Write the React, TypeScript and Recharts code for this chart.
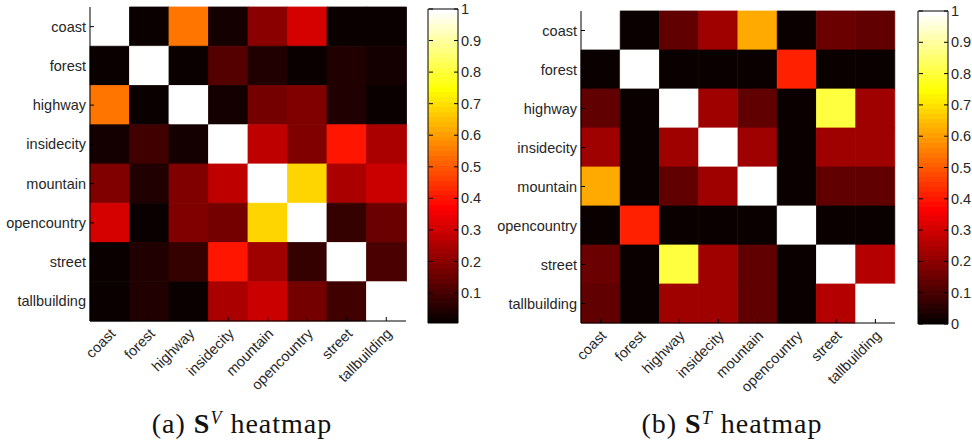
import React from "react";
import { BarChart, Bar, Cell, XAxis, YAxis } from "recharts";

const categories = [
  "coast",
  "forest",
  "highway",
  "insidecity",
  "mountain",
  "opencountry",
  "street",
  "tallbuilding",
];

// rows top -> bottom, columns left -> right
const visualSim = [
  [1.0, 0.01, 0.54, 0.03, 0.2, 0.31, 0.02, 0.02],
  [0.01, 1.0, 0.01, 0.12, 0.05, 0.01, 0.04, 0.03],
  [0.54, 0.01, 1.0, 0.03, 0.17, 0.18, 0.05, 0.02],
  [0.03, 0.09, 0.03, 1.0, 0.27, 0.18, 0.4, 0.24],
  [0.19, 0.05, 0.18, 0.27, 1.0, 0.68, 0.25, 0.29],
  [0.31, 0.02, 0.18, 0.17, 0.68, 1.0, 0.08, 0.16],
  [0.02, 0.05, 0.07, 0.4, 0.23, 0.08, 1.0, 0.1],
  [0.02, 0.04, 0.02, 0.25, 0.29, 0.17, 0.09, 1.0],
];

const textualSim = [
  [1.0, 0.01, 0.14, 0.22, 0.62, 0.01, 0.15, 0.13],
  [0.01, 1.0, 0.01, 0.01, 0.01, 0.42, 0.01, 0.01],
  [0.14, 0.01, 1.0, 0.22, 0.13, 0.01, 0.81, 0.23],
  [0.22, 0.01, 0.22, 1.0, 0.22, 0.01, 0.22, 0.22],
  [0.62, 0.01, 0.14, 0.22, 1.0, 0.01, 0.14, 0.13],
  [0.01, 0.42, 0.01, 0.01, 0.01, 1.0, 0.01, 0.01],
  [0.15, 0.01, 0.81, 0.22, 0.14, 0.01, 1.0, 0.25],
  [0.13, 0.01, 0.23, 0.22, 0.13, 0.01, 0.25, 1.0],
];

const visualRange = [0.005, 1];
const textualRange = [0, 1];
const visualBarTicks = [0.1, 0.2, 0.3, 0.4, 0.5, 0.6, 0.7, 0.8, 0.9, 1];
const textualBarTicks = [0, 0.1, 0.2, 0.3, 0.4, 0.5, 0.6, 0.7, 0.8, 0.9, 1];

const FONT = "'Liberation Sans', Arial, sans-serif";
const TEXT = "#262626";
const FS = 14.5;

// matlab hot(64), indexed the way image() does it
function hotIndex(t: number) {
  return Math.min(64, Math.floor(Math.max(0, t) * 64) + 1);
}
function hotColor(i: number) {
  const r = Math.min(1, i / 24);
  const g = Math.min(1, Math.max(0, (i - 24) / 24));
  const b = Math.min(1, Math.max(0, (i - 48) / 16));
  return `rgb(${Math.round(r * 255)},${Math.round(g * 255)},${Math.round(b * 255)})`;
}
function hot(v: number, range: number[]) {
  return hotColor(hotIndex((v - range[0]) / (range[1] - range[0])));
}

function YTick(props: any) {
  const { x, y, payload } = props;
  const label = categories[Math.floor(payload.value)];
  return (
    <g>
      <text x={x} y={y} dy="0.35em" textAnchor="end" fill={TEXT} fontSize={FS} fontFamily={FONT}>
        {label}
      </text>
      <line x1={x + 4} x2={x + 8} y1={y} y2={y} stroke="#000" />
    </g>
  );
}

function XTick(props: any) {
  const { x, y, payload } = props;
  return (
    <g>
      <line x1={x} x2={x} y1={y - 8} y2={y - 12} stroke="#000" />
      <text
        x={x + 3}
        y={y + 2}
        dy="0.35em"
        textAnchor="end"
        transform={`rotate(-45 ${x + 3} ${y + 2})`}
        fill={TEXT}
        fontSize={FS}
        fontFamily={FONT}
      >
        {payload.value}
      </text>
    </g>
  );
}

function Heatmap({ matrix, range, yWidth, margin }: any) {
  const data = categories.map((name) => {
    const row: any = { name };
    categories.forEach((_, r) => (row[`r${r}`] = 1));
    return row;
  });
  const rowTicks = categories.map((_, i) => i + 0.5);
  return (
    <BarChart width={420} height={400} data={data} margin={margin} barCategoryGap={0} barGap={0}>
      {categories.map((_, r) => (
        <Bar key={r} dataKey={`r${r}`} stackId="s" xAxisId="b" yAxisId="l" isAnimationActive={false}>
          {categories.map((__, c) => {
            const col = hot(matrix[r][c], range);
            return <Cell key={c} fill={col} stroke={col} strokeWidth={0.8} />;
          })}
        </Bar>
      ))}
      <XAxis
        xAxisId="b"
        dataKey="name"
        interval={0}
        height={75}
        tickSize={0}
        tickMargin={8}
        tickLine={false}
        axisLine={{ stroke: "#000" }}
        tick={<XTick />}
      />
      <XAxis
        xAxisId="t"
        dataKey="name"
        orientation="top"
        mirror
        height={0}
        tickSize={4}
        tick={false}
        axisLine={{ stroke: "#000" }}
        tickLine={{ stroke: "#000" }}
      />
      <YAxis
        yAxisId="l"
        type="number"
        domain={[0, categories.length]}
        reversed
        ticks={rowTicks}
        interval={0}
        width={yWidth}
        tickSize={0}
        tickMargin={4}
        tickLine={false}
        axisLine={{ stroke: "#000" }}
        tick={<YTick />}
      />
      <YAxis
        yAxisId="r"
        type="number"
        orientation="right"
        mirror
        width={0}
        domain={[0, categories.length]}
        reversed
        ticks={rowTicks}
        interval={0}
        tickSize={4}
        tick={false}
        axisLine={{ stroke: "#000" }}
        tickLine={{ stroke: "#000" }}
      />
    </BarChart>
  );
}

function BarTick(props: any) {
  const { x, y, payload } = props;
  const edge = x - 3;
  return (
    <g>
      <line x1={edge} x2={edge - 4} y1={y} y2={y} stroke="#000" />
      <line x1={edge - 29} x2={edge - 25} y1={y} y2={y} stroke="#000" />
      <text x={x} y={y} dy="0.35em" textAnchor="start" fill={TEXT} fontSize={FS} fontFamily={FONT}>
        {payload.value}
      </text>
    </g>
  );
}

function ColorBar({ id, range, ticks, margin }: any) {
  const stops: any[] = [];
  for (let i = 64; i >= 1; i--) {
    stops.push(<stop key={`a${i}`} offset={1 - i / 64} stopColor={hotColor(i)} />);
    stops.push(<stop key={`b${i}`} offset={1 - (i - 1) / 64} stopColor={hotColor(i)} />);
  }
  const data = [{ name: "cb", range }];
  return (
    <BarChart width={82} height={340} data={data} margin={margin} barCategoryGap={0}>
      <defs>
        <linearGradient id={id} x1="0" y1="0" x2="0" y2="1">
          {stops}
        </linearGradient>
      </defs>
      <XAxis dataKey="name" hide />
      <YAxis
        type="number"
        orientation="right"
        domain={range}
        ticks={ticks}
        interval={0}
        width={24}
        tickSize={0}
        tickMargin={3}
        tickLine={false}
        axisLine={false}
        tick={<BarTick />}
      />
      <Bar dataKey="range" fill={`url(#${id})`} stroke="#000" strokeWidth={1} isAnimationActive={false} />
    </BarChart>
  );
}

const captionStyle: React.CSSProperties = {
  position: "absolute",
  top: 410,
  width: 300,
  textAlign: "center",
  fontFamily: "'Liberation Serif', 'Times New Roman', serif",
  fontSize: 28,
  letterSpacing: 1,
  lineHeight: "28px",
  color: "#111",
  whiteSpace: "nowrap",
};

const supStyle: React.CSSProperties = {
  fontSize: 18,
  fontStyle: "italic",
  verticalAlign: "9px",
  lineHeight: 0,
};

export default function App() {
  return (
    <div style={{ position: "absolute", left: 0, top: 0, width: 972, height: 447, background: "#fff", overflow: "hidden" }}>
      <div style={{ position: "absolute", left: 0, top: 0 }}>
        <Heatmap matrix={visualSim} range={visualRange} yWidth={90} margin={{ top: 7, right: 14, bottom: 4, left: 0 }} />
      </div>
      <div style={{ position: "absolute", left: 400, top: 0 }}>
        <ColorBar id="hotA" range={visualRange} ticks={visualBarTicks} margin={{ top: 9, right: 0, bottom: 17, left: 28 }} />
      </div>
      <div style={{ position: "absolute", left: 490, top: 0 }}>
        <Heatmap matrix={textualSim} range={textualRange} yWidth={91} margin={{ top: 11, right: 15, bottom: 2, left: 0 }} />
      </div>
      <div style={{ position: "absolute", left: 890, top: 0 }}>
        <ColorBar id="hotB" range={textualRange} ticks={textualBarTicks} margin={{ top: 11, right: 0, bottom: 16, left: 28 }} />
      </div>
      <div style={{ ...captionStyle, left: 92 }}>
        (a) <b>S</b>
        <span style={supStyle}>V</span> heatmap
      </div>
      <div style={{ ...captionStyle, left: 582 }}>
        (b) <b>S</b>
        <span style={supStyle}>T</span> heatmap
      </div>
    </div>
  );
}
